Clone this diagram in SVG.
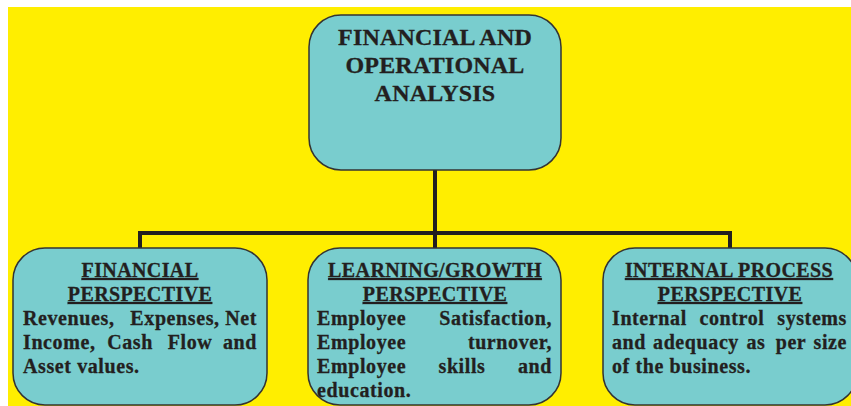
<svg xmlns="http://www.w3.org/2000/svg" width="851" height="406" viewBox="0 0 851 406">
<style>
.box{fill:#79CDCE;stroke:#333333;stroke-width:1.5}
text{font-family:"Liberation Serif","Times New Roman",serif;font-weight:bold;fill:#231F20;stroke:#231F20;stroke-width:0.3}
.title{font-size:24px;text-anchor:middle;letter-spacing:0.2px}
.head{font-size:20px;text-anchor:middle;text-decoration:underline;letter-spacing:0.4px}
.body{font-size:20px;letter-spacing:0.6px}
.m{text-anchor:middle}
.e{text-anchor:end}
.conn{fill:none;stroke:#231F20;stroke-width:4}
</style>
<rect x="0" y="0" width="851" height="406" fill="#FFFFFF"/>
<rect x="8" y="7" width="843" height="399" fill="#FFEE00"/>
<g id="connectors">
<line class="conn" x1="435" y1="170" x2="435" y2="249"/>
<polyline class="conn" points="140,249 140,233 730,233 730,249"/>
</g>
<g id="node-top">
<rect class="box" x="309" y="15" width="252" height="155" rx="32"/>
<text class="title" x="435" y="45">FINANCIAL AND</text>
<text class="title" x="435" y="73">OPERATIONAL</text>
<text class="title" x="435" y="101">ANALYSIS</text>
</g>
<g id="node-financial">
<rect class="box" x="13" y="248" width="254" height="157" rx="32"/>
<text class="head" x="140" y="277">FINANCIAL</text>
<text class="head" x="140" y="301">PERSPECTIVE</text>
<text class="body" x="23" y="325">Revenues,</text>
<text class="body m" x="175" y="325">Expenses,</text>
<text class="body e" x="257" y="325">Net</text>
<text class="body" x="23" y="349">Income,</text>
<text class="body m" x="130" y="349">Cash</text>
<text class="body m" x="190" y="349">Flow</text>
<text class="body e" x="257" y="349">and</text>
<text class="body" x="23" y="373">Asset values.</text>
</g>
<g id="node-learning">
<rect class="box" x="308" y="248" width="253" height="157" rx="32"/>
<text class="head" x="435" y="277">LEARNING/GROWTH</text>
<text class="head" x="435" y="301">PERSPECTIVE</text>
<text class="body" x="317" y="325">Employee</text>
<text class="body e" x="552" y="325">Satisfaction,</text>
<text class="body" x="317" y="349">Employee</text>
<text class="body e" x="552" y="349">turnover,</text>
<text class="body" x="317" y="373">Employee</text>
<text class="body m" x="462" y="373">skills</text>
<text class="body e" x="552" y="373">and</text>
<text class="body" x="317" y="397">education.</text>
</g>
<g id="node-internal">
<rect class="box" x="603" y="248" width="254" height="157" rx="32"/>
<text class="head" x="729" y="277">INTERNAL PROCESS</text>
<text class="head" x="730" y="301">PERSPECTIVE</text>
<text class="body" x="612" y="325">Internal</text>
<text class="body m" x="732" y="325">control</text>
<text class="body e" x="847" y="325">systems</text>
<text class="body" x="612" y="349">and</text>
<text class="body m" x="696" y="349">adequacy</text>
<text class="body m" x="756" y="349">as</text>
<text class="body m" x="791" y="349">per</text>
<text class="body e" x="847" y="349">size</text>
<text class="body" x="612" y="373">of the business.</text>
</g>
</svg>
